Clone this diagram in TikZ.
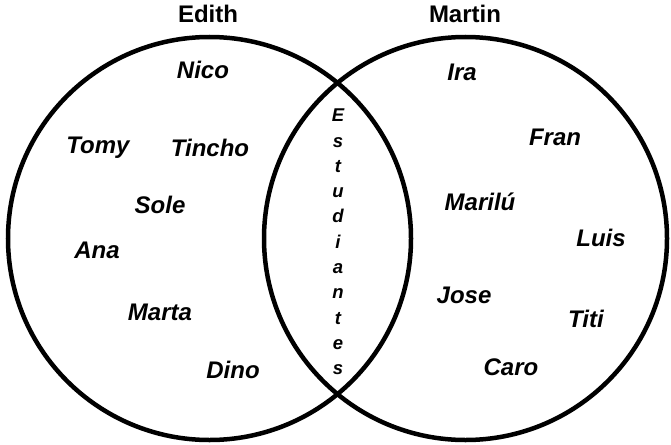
\documentclass[tikz,border=0pt]{standalone}
\usepackage{fontspec}
\setmainfont{Liberation Sans}
\begin{document}
\begin{tikzpicture}[x=1pt,y=-1pt,
  set/.style={circle,draw=black,line width=4.5pt,minimum size=403pt,inner sep=0pt},
  title/.style={font=\fontsize{24}{24}\selectfont\bfseries,inner sep=0pt},
  person/.style={font=\fontsize{24}{24}\selectfont\bfseries\itshape,inner sep=0pt}]
\useasboundingbox (0,0) rectangle (671,444);
\node[set] (edith) at (209.5,238.5) {};
\node[set] (martin) at (465.5,238.5) {};
\node[title] (tE) at (208,14) {Edith};
\node[title] (tM) at (465,14) {Martin};
% Edith
\node[person] (nico) at (203,70) {Nico};
\node[person] (tomy) at (98,148) {Tomy};
\node[person] (tincho) at (210,148) {Tincho};
\node[person] (sole) at (160,205) {Sole};
\node[person] (ana) at (97,250) {Ana};
\node[person] (marta) at (160,312) {Marta};
\node[person] (dino) at (233,370) {Dino};
% Martin
\node[person] (ira) at (462,72) {Ira};
\node[person] (fran) at (555,137) {Fran};
\node[person] (marilu) at (480,202) {Marilú};
\node[person] (luis) at (601,238) {Luis};
\node[person] (jose) at (464,295) {Jose};
\node[person] (titi) at (586,319) {Titi};
\node[person] (caro) at (511,367) {Caro};
% intersection
\node[font=\fontsize{18.5}{25.3}\selectfont\bfseries\itshape,align=center,inner sep=0pt] (est) at (338,242)
  {E\\s\\t\\u\\d\\i\\a\\n\\t\\e\\s};
\end{tikzpicture}
\end{document}
